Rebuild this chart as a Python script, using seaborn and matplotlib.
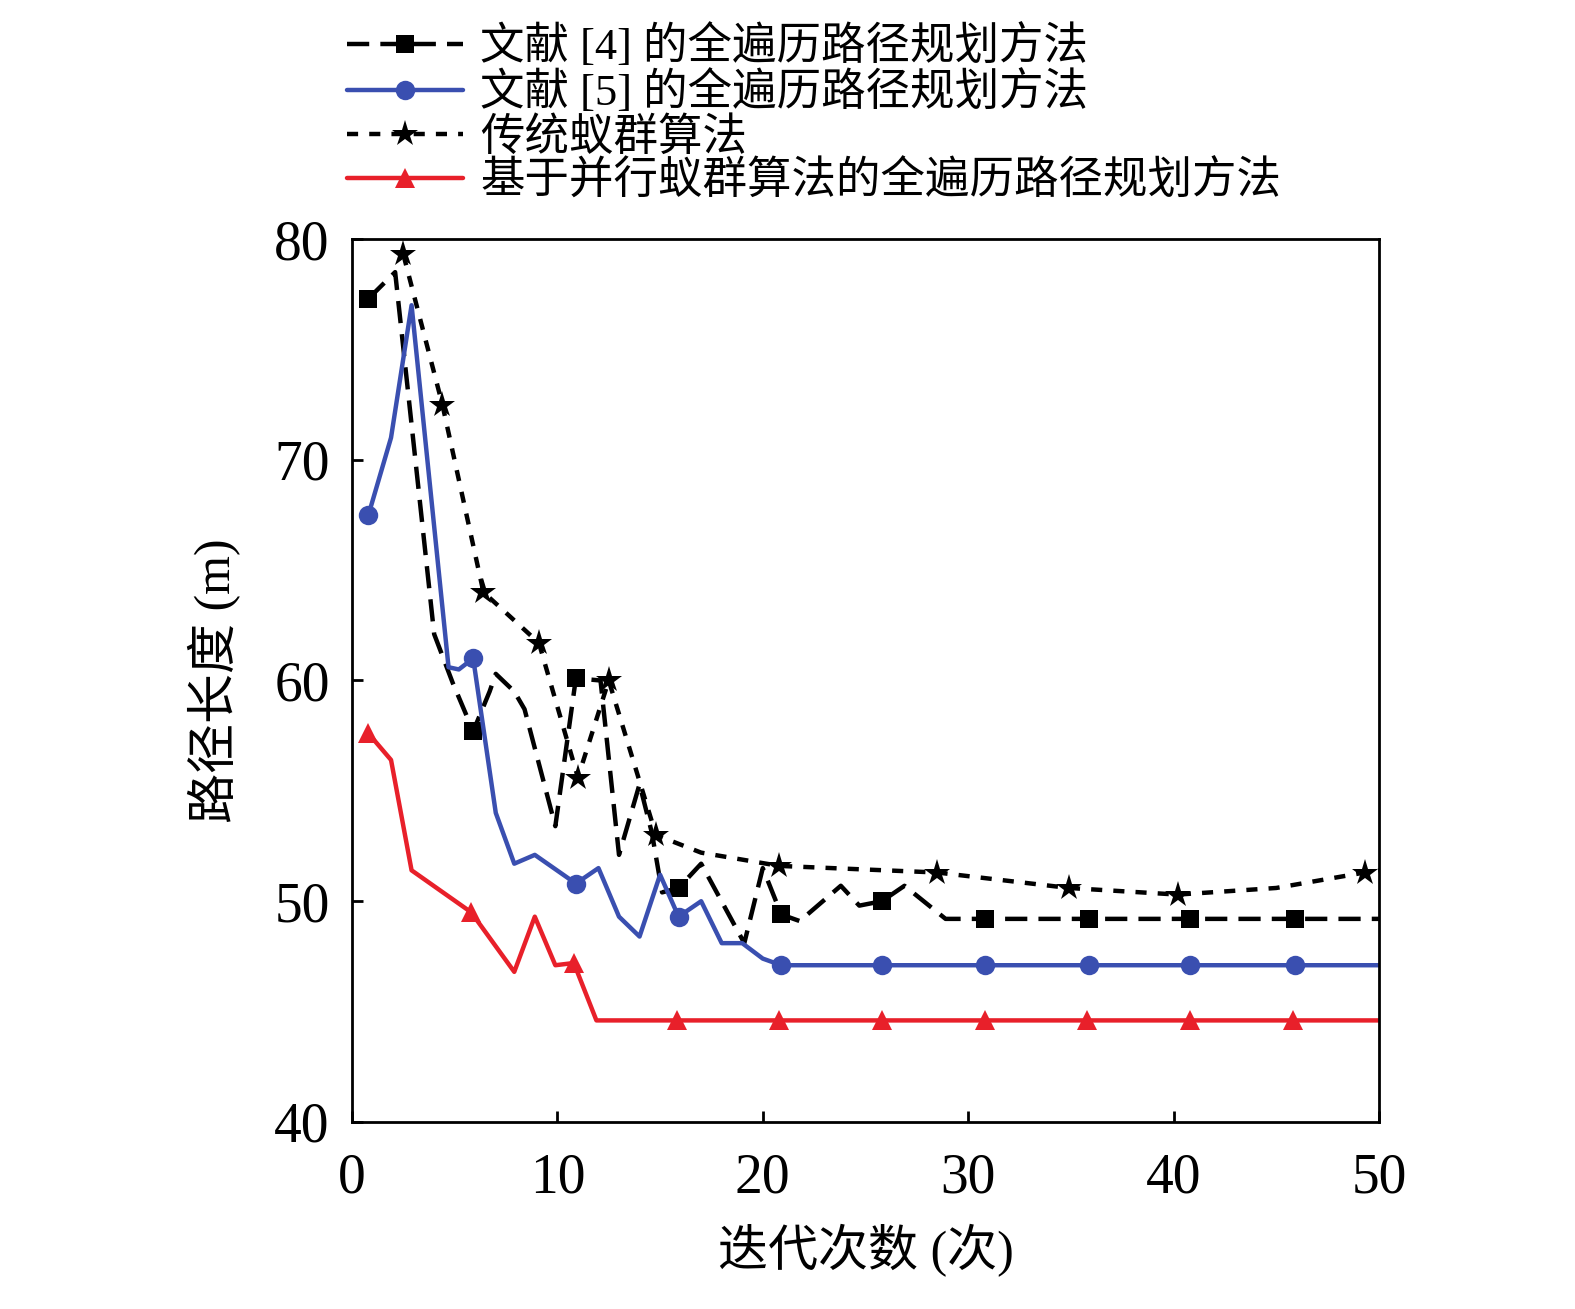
import matplotlib
matplotlib.use("Agg")
import matplotlib.pyplot as plt
import seaborn as sns
import pandas as pd

# series
sq_x = [0.8, 2.1, 4.0, 4.9, 5.9, 6.7, 7.0, 7.9, 8.4, 9.9, 10.9, 12.1, 13.0, 14.0, 14.6, 15.1,
        15.9, 17.0, 19.1, 20.0, 20.9, 21.8, 23.8, 24.7, 25.8, 26.9, 28.9, 30.8, 35.9, 40.8, 45.9, 50.0]
sq_y = [77.3, 78.5, 62.1, 59.9, 57.7, 59.5, 60.3, 59.5, 58.7, 53.4, 60.1, 60.0, 52.1, 55.3, 53.1, 50.4,
        50.6, 51.7, 48.1, 51.5, 49.4, 49.1, 50.7, 49.8, 50.0, 50.7, 49.2, 49.2, 49.2, 49.2, 49.2, 49.2]
sq_marks = [0, 4, 10, 16, 20, 24, 27, 28, 29, 30]

ci_x = [0.8, 1.9, 2.9, 4.7, 5.2, 5.9, 7.0, 7.9, 8.9, 10.9, 12.0, 13.0, 14.0, 15.0, 15.9, 17.0,
        18.0, 19.0, 20.0, 20.9, 25.8, 30.8, 35.9, 40.8, 45.9, 50.0]
ci_y = [67.5, 71.0, 77.0, 60.6, 60.5, 61.0, 54.0, 51.7, 52.1, 50.8, 51.5, 49.3, 48.4, 51.2, 49.3, 50.0,
        48.1, 48.1, 47.4, 47.1, 47.1, 47.1, 47.1, 47.1, 47.1, 47.1]
ci_marks = [0, 5, 9, 14, 19, 20, 21, 22, 23, 24]

st_x = [2.5, 4.4, 6.4, 9.1, 11.0, 12.5, 14.8, 17.0, 20.8, 28.5, 34.9, 40.2, 45.0, 49.3, 50.0]
st_y = [79.3, 72.5, 64.0, 61.7, 55.6, 60.0, 53.0, 52.2, 51.6, 51.3, 50.6, 50.3, 50.6, 51.3, 51.4]
st_marks = [0, 1, 2, 3, 4, 5, 6, 8, 9, 10, 11, 13]

tr_x = [0.8, 1.9, 2.9, 5.8, 7.9, 8.9, 9.9, 10.8, 11.9, 15.8, 20.8, 25.8, 30.8, 35.8, 40.8, 45.8, 50.0]
tr_y = [57.6, 56.4, 51.4, 49.5, 46.8, 49.3, 47.1, 47.2, 44.6, 44.6, 44.6, 44.6, 44.6, 44.6, 44.6, 44.6, 44.6]
tr_marks = [0, 3, 7, 9, 10, 11, 12, 13, 14, 15]

labels = ["文献 [4] 的全遍历路径规划方法", "文献 [5] 的全遍历路径规划方法",
          "传统蚁群算法", "基于并行蚁群算法的全遍历路径规划方法"]

sns.set_theme(style="ticks")
plt.rcParams['font.family'] = ['Liberation Serif', 'Noto Sans CJK SC']
plt.rcParams['axes.linewidth'] = 2
plt.rcParams['text.color'] = 'black'
plt.rcParams['axes.labelcolor'] = 'black'
plt.rcParams['axes.edgecolor'] = 'black'
plt.rcParams['xtick.color'] = 'black'
plt.rcParams['ytick.color'] = 'black'

fig = plt.figure(figsize=(15.75, 13.09), dpi=100)
ax = fig.add_axes([0.2235, 0.1429, 0.652, 0.6745])

series = [
    (sq_x, sq_y, sq_marks, "black", (0, (5, 2.5)), "s", 13),
    (ci_x, ci_y, ci_marks, "#3a4fb0", "-", "o", 14),
    (st_x, st_y, st_marks, "black", (0, (2.5, 2.5)), "*", 20),
    (tr_x, tr_y, tr_marks, "#e8202a", "-", "^", 14),
]
for (xs, ys, marks, col, ls, mk, ms), lab in zip(series, labels):
    df = pd.DataFrame({"x": xs, "y": ys})
    sns.lineplot(data=df, x="x", y="y", ax=ax, color=col, linestyle=ls, linewidth=3.2,
                 marker=mk, markevery=marks, label=lab, sort=False, estimator=None)
    line = ax.get_lines()[-1]
    line.set_markersize(ms)
    line.set_markeredgewidth(0)
    line.set_markerfacecolor(col)

ax.set_xlim(0, 50)
ax.set_ylim(40, 80)
ax.set_xticks(range(0, 51, 10))
ax.set_yticks(range(40, 81, 10))
ax.tick_params(direction="in", length=8, width=2, labelsize=40)
ax.tick_params(axis="x", pad=22)
ax.tick_params(axis="y", pad=16)
ax.set_xlabel("迭代次数 (次)", fontsize=36, labelpad=14)
ax.set_ylabel("路径长度 (m)", fontsize=36, labelpad=24)

ax.get_legend().remove()
h, l = ax.get_legend_handles_labels()
fig.legend(h, l, loc="upper left", bbox_to_anchor=(0.195, 1.012), frameon=False,
           fontsize=32, labelspacing=0.05, handlelength=2.6, handletextpad=0.4)

fig.savefig("out.png", dpi=100)
